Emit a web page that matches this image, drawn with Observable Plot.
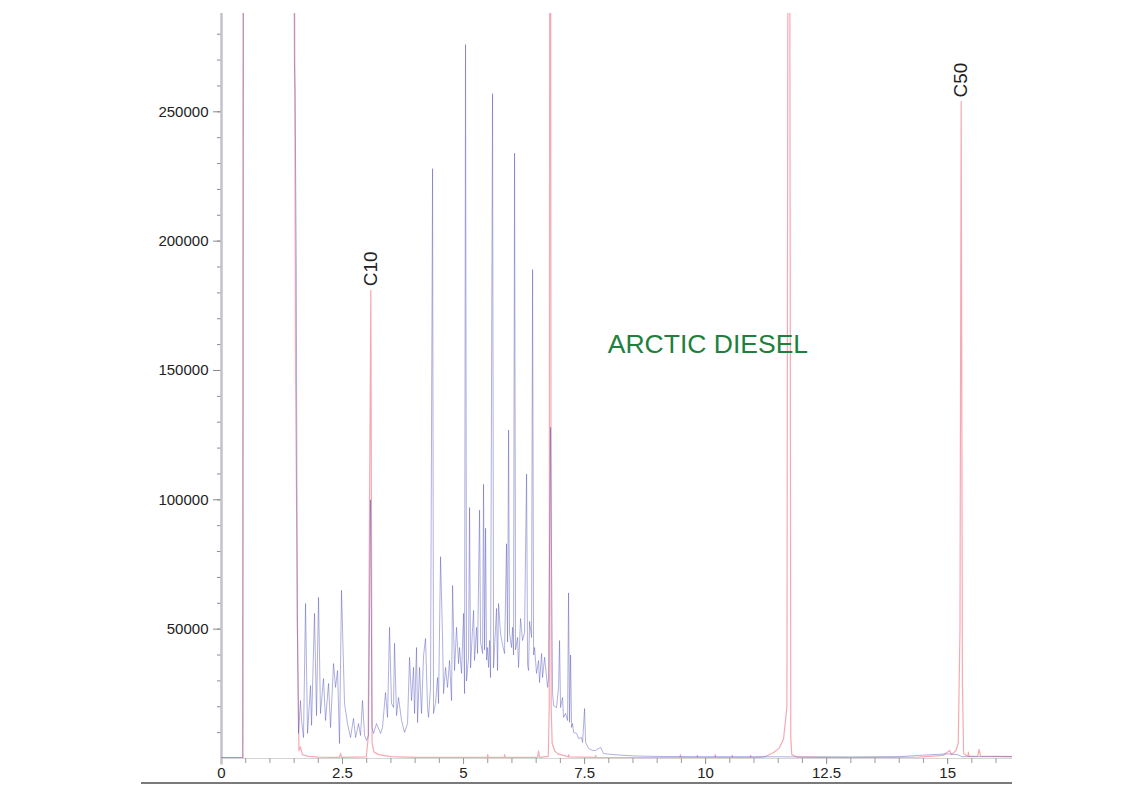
<!DOCTYPE html>
<html>
<head>
<meta charset="utf-8">
<script src="https://cdn.jsdelivr.net/npm/d3@7"></script>
<script src="https://cdn.jsdelivr.net/npm/@observablehq/plot@0.6"></script>
<style>
  body { margin: 0; background: #fff; }
  #wrap { position: relative; width: 1146px; height: 785px; overflow: hidden; }
  #chart svg { display: block; }
  #frameLine { position: absolute; left: 141px; top: 782px; width: 871px; height: 2px; background: #7a7a7a; }
</style>
</head>
<body>
<div id="wrap"><div id="chart"></div><div id="frameLine"></div></div>
<script>
// Sample trace (Arctic diesel), [retention time (min), signal]
const dieselTrace = [
  [0, 300], [0.44, 300], [0.455, 400000], [1.48, 400000], [1.505, 270000], [1.52, 258000], [1.545, 190000],
  [1.565, 53400], [1.591, 9700], [1.632, 22400], [1.653, 14700], [1.694, 8100], [1.736, 59900], [1.777, 9700],
  [1.839, 28200], [1.860, 12800], [1.921, 56100], [1.963, 16600], [2.004, 62300], [2.045, 17400], [2.107, 30900],
  [2.149, 14700], [2.211, 29000], [2.252, 12000], [2.314, 36700], [2.355, 27500], [2.397, 34000], [2.438, 5800],
  [2.479, 65000], [2.541, 21300], [2.603, 13500], [2.665, 8100], [2.727, 15500], [2.769, 8100], [2.831, 13500],
  [2.872, 8900], [2.913, 22400], [2.955, 8900], [2.996, 7000], [3.037, 9000], [3.079, 100000], [3.11, 12000],
  [3.140, 9700], [3.202, 13500], [3.285, 9700], [3.326, 12000], [3.388, 25500], [3.430, 15900], [3.471, 50700],
  [3.512, 21300], [3.554, 19700], [3.574, 44500], [3.616, 16600], [3.657, 23600], [3.719, 14700], [3.781, 10100],
  [3.843, 13500], [3.884, 39100], [3.926, 22400], [3.967, 35200], [3.988, 17400], [4.029, 42900], [4.050, 13900],
  [4.091, 35200], [4.132, 17400], [4.174, 39800], [4.215, 46400], [4.256, 19700], [4.277, 15900], [4.318, 27500],
  [4.360, 228000], [4.380, 17400], [4.421, 21300], [4.463, 31300], [4.483, 21300], [4.525, 78000], [4.566, 46800],
  [4.587, 25100], [4.628, 35200], [4.669, 27500], [4.711, 37900], [4.752, 22400], [4.773, 66900], [4.814, 34000],
  [4.855, 50700], [4.897, 36700], [4.917, 42900], [4.959, 32900], [5.000, 56100], [5.021, 25100], [5.041, 276000],
  [5.062, 30000], [5.103, 39100], [5.124, 97000], [5.145, 35000], [5.165, 42900], [5.207, 57200], [5.227, 37900],
  [5.269, 50700], [5.289, 40600], [5.331, 96000], [5.352, 45000], [5.393, 40600], [5.413, 106000], [5.434, 42000],
  [5.455, 89000], [5.476, 38000], [5.496, 42900], [5.517, 35200], [5.538, 45600], [5.558, 31300], [5.599, 257000],
  [5.620, 35000], [5.640, 42900], [5.682, 58000], [5.702, 34000], [5.723, 59900], [5.764, 48300], [5.806, 44000],
  [5.847, 40600], [5.888, 83000], [5.909, 45000], [5.930, 127000], [5.950, 48300], [5.992, 42900], [6.012, 50700],
  [6.033, 40000], [6.054, 234000], [6.075, 42000], [6.116, 46800], [6.136, 35200], [6.178, 54100], [6.219, 45600],
  [6.260, 48700], [6.302, 110000], [6.323, 36000], [6.343, 34000], [6.364, 53000], [6.405, 46800], [6.426, 189000],
  [6.447, 40000], [6.467, 42900], [6.508, 32900], [6.550, 37900], [6.570, 29400], [6.612, 40600], [6.632, 31300],
  [6.674, 39100], [6.736, 27500], [6.756, 31300], [6.798, 128000], [6.839, 25100], [6.860, 20500], [6.921, 19700],
  [6.963, 27500], [6.983, 45600], [7.004, 19700], [7.045, 23600], [7.066, 15900], [7.107, 17400], [7.149, 14700],
  [7.169, 64000], [7.19, 14000], [7.211, 40000], [7.232, 12000], [7.252, 13500], [7.273, 10100], [7.335, 9700],
  [7.376, 7700], [7.438, 8100], [7.459, 6200], [7.500, 19300], [7.521, 6200], [7.583, 3900], [7.665, 3100],
  [7.727, 3100], [7.831, 4300], [7.893, 1900], [8.099, 1500], [8.5, 1000], [9.0, 800], [10.0, 700], [11.0, 700],
  [12.0, 600], [13.0, 600], [14.0, 700], [14.4, 1200], [15.0, 1800], [15.2, 1500], [15.3, 700], [16.34, 700]
];

// Reference standard trace (n-alkane markers), [retention time (min), signal]
const standardTrace = [
  [0, 300], [0.44, 300], [0.455, 600000], [1.47, 600000], [1.53, 150000], [1.57, 50000], [1.60, 3000], [1.63, 4500],
  [1.67, 1500], [1.8, 800], [2.0, 500], [2.44, 400], [2.46, 2000], [2.48, 400], [2.99, 600], [3.03, 8000],
  [3.085, 181000], [3.11, 6000], [3.15, 2500], [3.25, 1500], [3.5, 700], [4.0, 400], [5.49, 400], [5.50, 1500],
  [5.51, 400], [5.84, 400], [5.85, 1500], [5.86, 400], [6.53, 400], [6.55, 3000], [6.57, 400], [6.75, 800],
  [6.77, 20000], [6.79, 600000], [6.81, 20000], [6.83, 6000], [6.88, 3000], [6.95, 1800], [7.1, 1000], [7.16, 600],
  [7.17, 1500], [7.18, 600], [7.4, 500], [7.72, 400], [7.73, 1200], [7.74, 400], [9.47, 300], [9.48, 1500],
  [9.49, 300], [9.82, 300], [9.83, 1200], [9.84, 300], [10.19, 300], [10.2, 1500], [10.21, 300], [10.54, 300],
  [10.55, 1200], [10.56, 300], [10.92, 300], [10.93, 1200], [10.94, 300], [11.2, 500], [11.4, 2200], [11.52, 4000],
  [11.61, 7500], [11.68, 20000], [11.72, 600000], [11.76, 8000], [11.78, 1500], [11.9, 500], [13, 300], [14.4, 500],
  [14.9, 1200], [15.04, 3100], [15.08, 1500], [15.17, 3000], [15.22, 6000], [15.255, 50000], [15.28, 254000],
  [15.305, 30000], [15.33, 2000], [15.38, 1200], [15.42, 1000], [15.43, 2500], [15.44, 800], [15.62, 900],
  [15.65, 3500], [15.68, 900], [16.34, 700]
];

const peakNames = ["C10", "C50"];
const peakTimes = [3.085, 15.28];
const peakHeights = [181000, 254000];

const sampleName = "ARCTIC DIESEL";
const xTicks = [0, 2.5, 5, 7.5, 10, 12.5, 15];
const yTicks = [50000, 100000, 150000, 200000, 250000];

const toRows = arr => arr.map(([t, v]) => ({t, v}));
const dieselRows = toRows(dieselTrace);
const standardRows = toRows(standardTrace);
const peakRows = peakNames.map((name, i) => ({name, t: peakTimes[i], v: peakHeights[i]}));

const chart = Plot.plot({
  width: 1146,
  height: 785,
  marginLeft: 221,
  marginRight: 134,
  marginTop: 13,
  marginBottom: 27,
  x: {domain: [0, 16.34]},
  y: {domain: [0, 288000]},
  style: {fontFamily: "'Liberation Sans', Arial, sans-serif", background: "#fff", color: "#222", overflow: "visible"},
  marks: [
    Plot.ruleY([0], {stroke: "#d6d6d6"}),
    Plot.axisX(d3.range(0, 16.3, 0.5), {tickSize: 5, stroke: "#9a9a9a", fill: "none", label: null}),
    Plot.axisX(xTicks, {tickSize: 6, tickPadding: 3, stroke: "#9a9a9a", fill: "#222", fontSize: 15,
      tickFormat: d => String(d), label: null}),
    Plot.axisY(d3.range(10000, 290000, 10000), {tickSize: 4, stroke: "#8a8a8a", fill: "none", label: null}),
    Plot.axisY(yTicks, {tickSize: 8, tickPadding: 5, stroke: "#8a8a8a", fill: "#222", fontSize: 15,
      tickFormat: d => String(d), label: null}),
    Plot.ruleX([0], {y1: -2500, y2: 288000, stroke: "#c2c2ca", strokeWidth: 2.5}),
    Plot.line(standardRows, {x: "t", y: "v", stroke: "#f07080", strokeOpacity: 0.6, strokeWidth: 1.2, clip: true}),
    Plot.line(dieselRows, {x: "t", y: "v", stroke: "#5050b8", strokeOpacity: 0.45, strokeWidth: 1, clip: true}),
    Plot.text(peakRows, {x: "t", y: "v", text: "name", rotate: -90, textAnchor: "start", dy: -4,
      fontSize: 19, fill: "#222"}),
    Plot.text([sampleName], {x: () => 7.98, y: () => 160000, text: d => d, textAnchor: "start",
      fontSize: 26.5, fill: "#1f7f3c"})
  ]
});
document.getElementById("chart").appendChild(chart);
</script>
</body>
</html>
